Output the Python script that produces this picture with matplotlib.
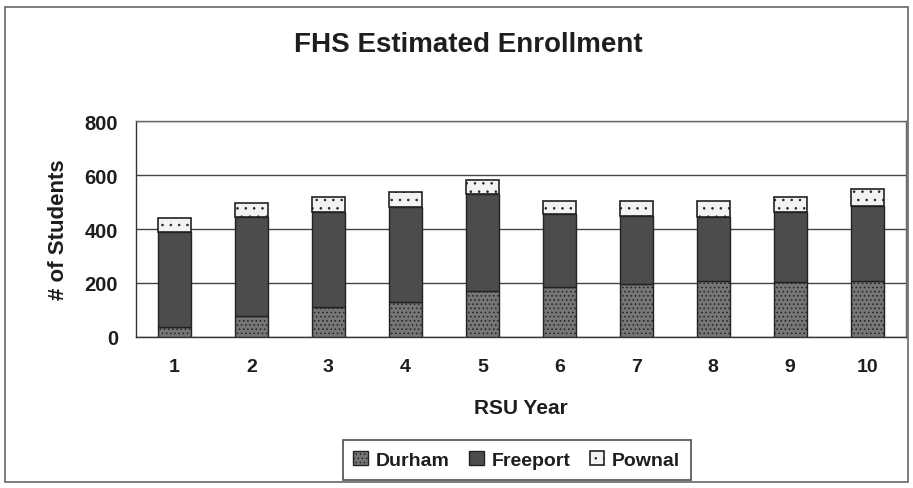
import matplotlib
matplotlib.use("Agg")
import matplotlib.pyplot as plt
from matplotlib.patches import Rectangle

plt.rcParams['font.family'] = ['Liberation Sans', 'DejaVu Sans']
plt.rcParams['hatch.linewidth'] = 0.6

years = ["1", "2", "3", "4", "5", "6", "7", "8", "9", "10"]
durham = [37, 78, 111, 130, 170, 185, 196, 207, 204, 207]
freeport = [352, 366, 352, 351, 360, 271, 252, 237, 259, 278]
pownal = [52, 52, 55, 56, 51, 48, 56, 60, 55, 65]

fig = plt.figure(figsize=(9.13, 4.89), dpi=100)
ax = fig.add_axes([0.149, 0.309, 0.843, 0.441])

x = list(range(len(years)))
w = 0.43
bot2 = durham
bot3 = [d + f for d, f in zip(durham, freeport)]
ax.bar(x, durham, w, color='#767676', edgecolor='#222222', linewidth=1.0,
       hatch='....', label='Durham', zorder=3)
ax.bar(x, freeport, w, bottom=bot2, color='#4c4c4c', edgecolor='#222222', linewidth=1.0,
       label='Freeport', zorder=3)
ax.bar(x, pownal, w, bottom=bot3, color='#f2f2f2', edgecolor='#222222', linewidth=1.2,
       hatch='..', label='Pownal', zorder=3)

ax.set_ylim(0, 800)
ax.set_xlim(-0.5, len(years) - 0.5)
ax.set_yticks([0, 200, 400, 600, 800])
ax.set_xticks(x)
ax.set_xticklabels(years)
ax.yaxis.grid(True, color='#444444', linewidth=1.0, zorder=0)
ax.tick_params(axis='x', labelsize=14, length=0, pad=15)
ax.tick_params(axis='y', labelsize=14.5, length=0, pad=13)
for lab in ax.get_xticklabels() + ax.get_yticklabels():
    lab.set_fontweight('bold')
    lab.set_color('#1e1e1e')
for s in ax.spines.values():
    s.set_color('#666666')
    s.set_linewidth(1.0)
ax.spines['left'].set_color('#333333')
ax.spines['bottom'].set_color('#333333')

ax.set_xlabel('RSU Year', fontsize=15, fontweight='bold', color='#1e1e1e', labelpad=17)
ax.set_ylabel('# of Students', fontsize=16, fontweight='bold', color='#1e1e1e', labelpad=11)
fig.text(0.513, 0.908, 'FHS Estimated Enrollment', ha='center', va='center',
         fontsize=20, fontweight='bold', color='#1e1e1e')

leg = fig.legend(loc='center', bbox_to_anchor=(0.566, 0.057), ncol=3, fontsize=14,
                 frameon=True, fancybox=False, edgecolor='#222222', handlelength=0.75,
                 handleheight=0.75, columnspacing=1.0, handletextpad=0.4, borderpad=0.55,
                 borderaxespad=0)
leg.get_frame().set_linewidth(1.2)
for t in leg.get_texts():
    t.set_fontweight('bold')
    t.set_color('#1e1e1e')

fig.patches.append(Rectangle((0.006, 0.012), 0.988, 0.972, transform=fig.transFigure,
                             fill=False, edgecolor='#666666', linewidth=1.2))

fig.savefig('out.png', dpi=100)
